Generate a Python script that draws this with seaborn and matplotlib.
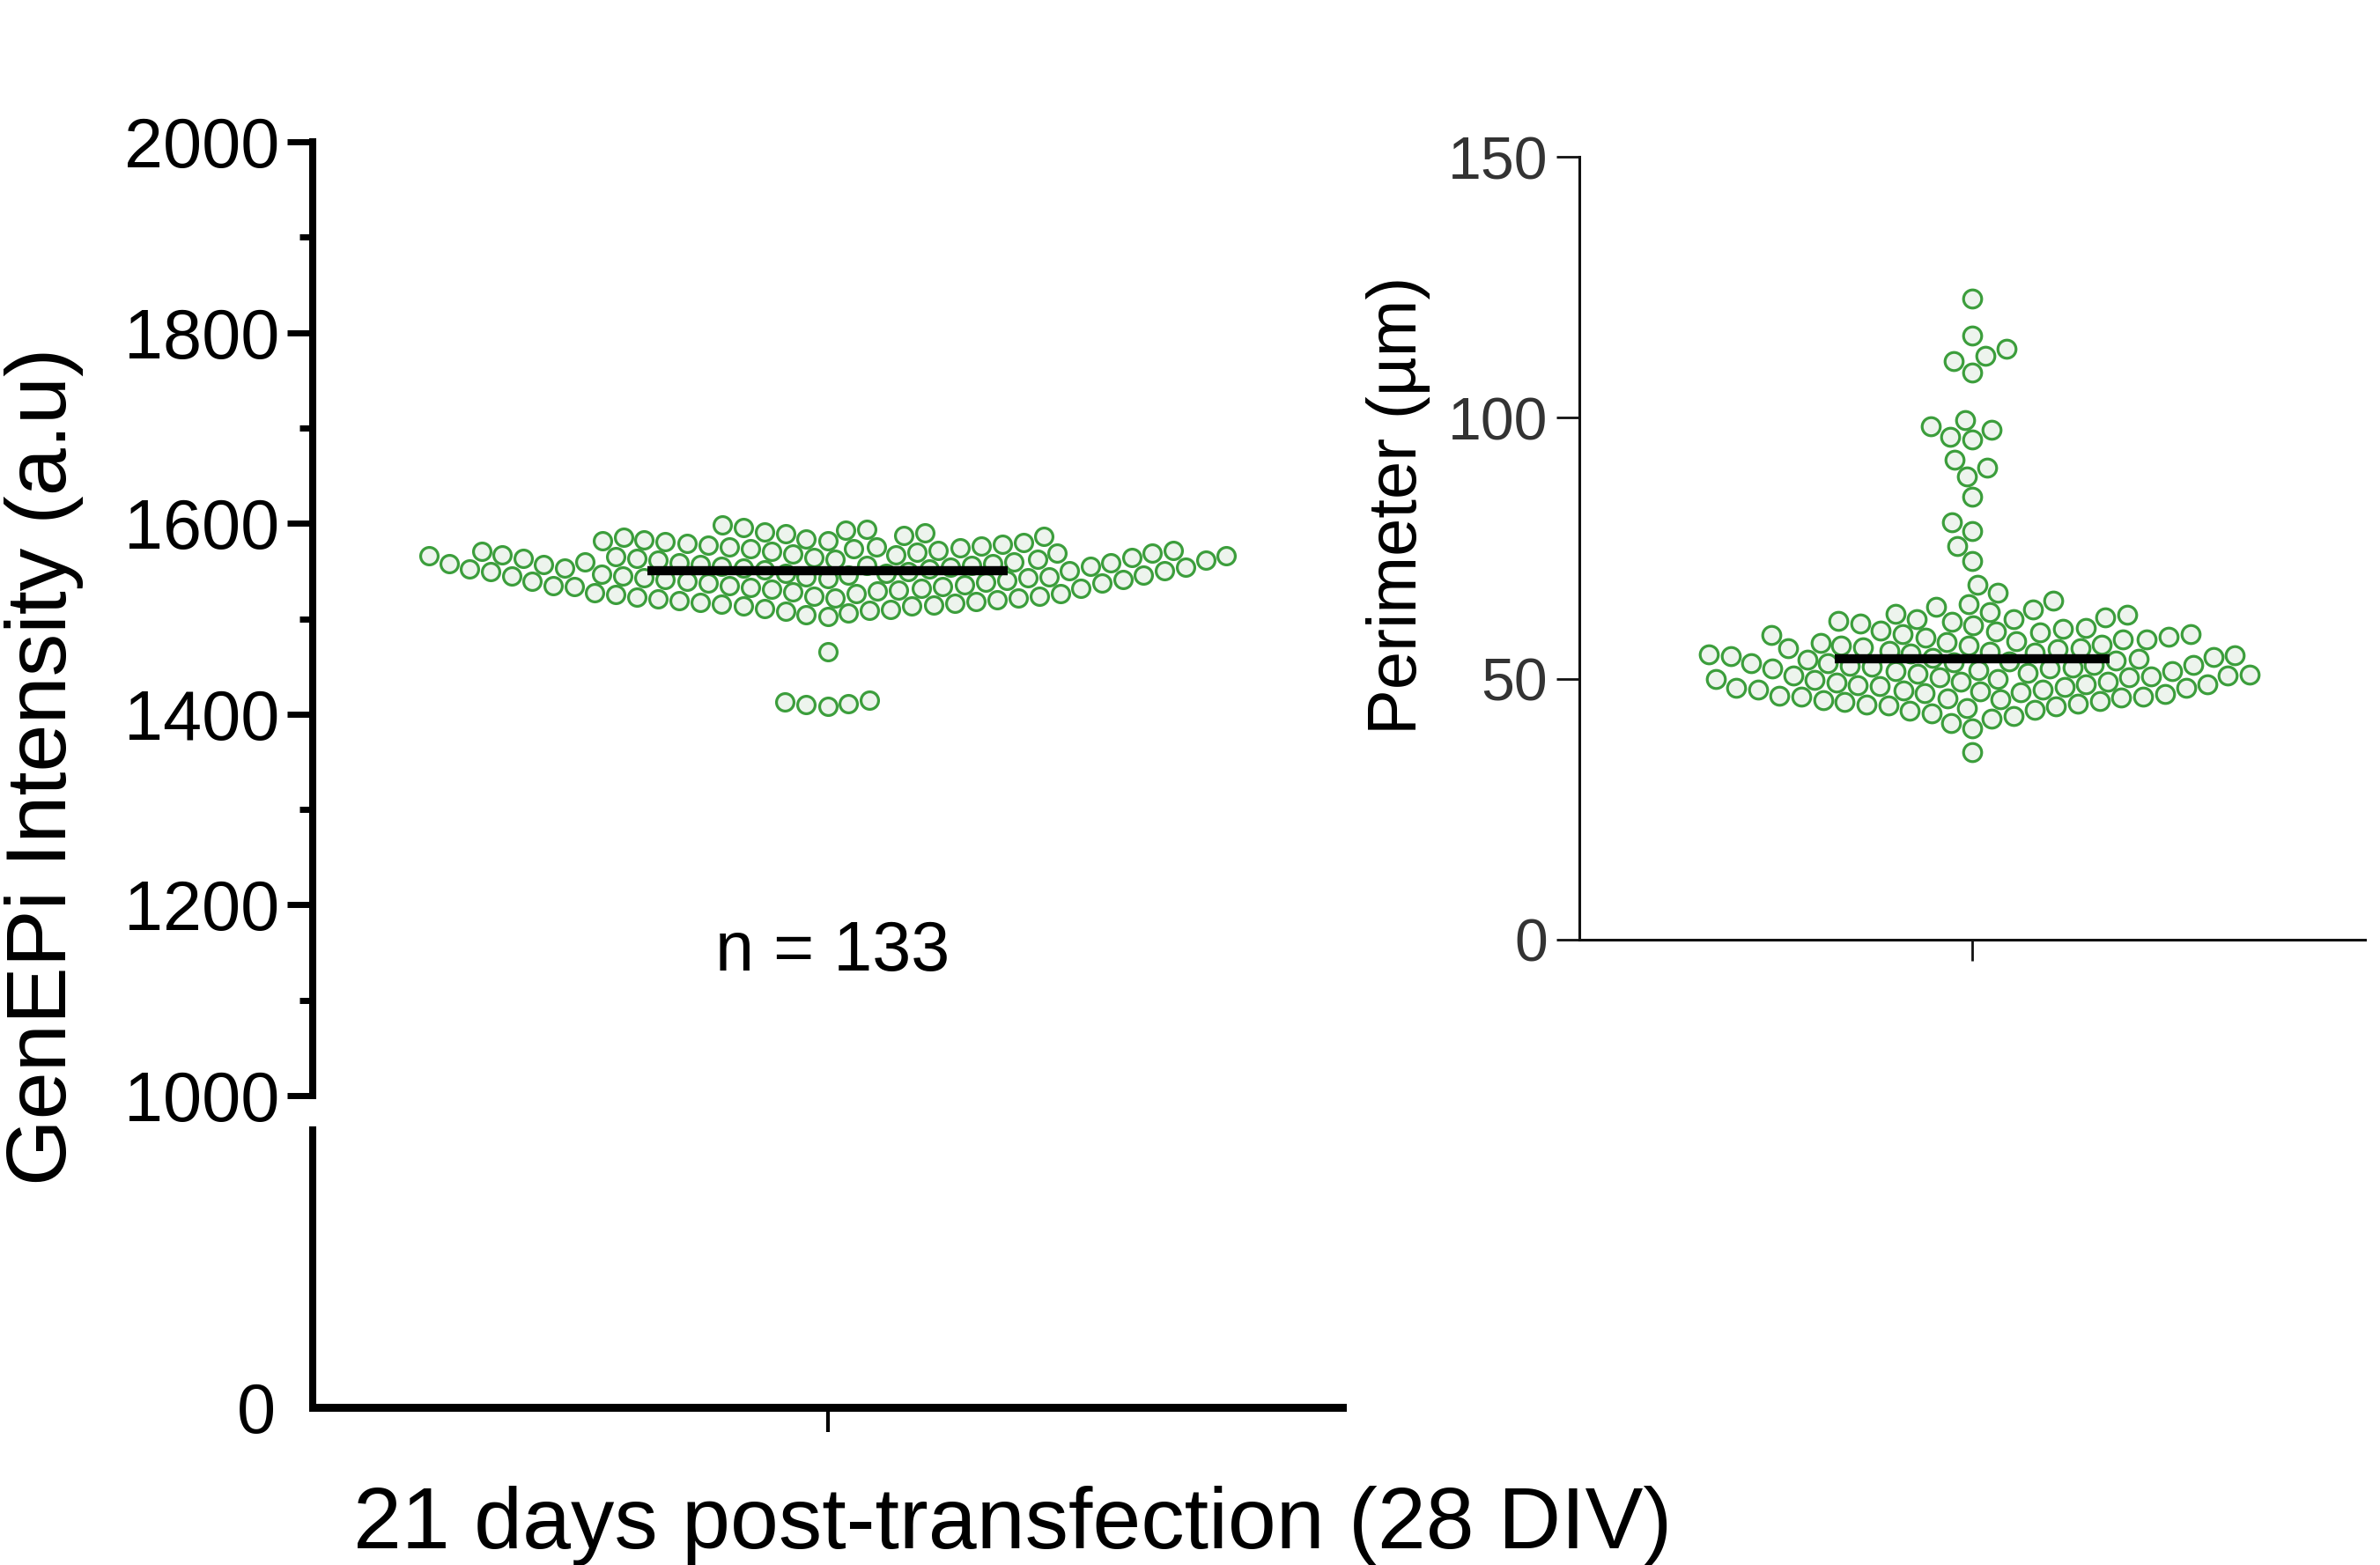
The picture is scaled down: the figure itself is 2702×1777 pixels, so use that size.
import numpy as np
import pandas as pd
import matplotlib
matplotlib.use("Agg")
import matplotlib.pyplot as plt
import seaborn as sns

# ---------------- data ----------------
intensity = [
    1408, 1410, 1411, 1413, 1415, 1465,
    1502, 1504, 1506, 1508, 1509,
    1510, 1511, 1513, 1513, 1514, 1516, 1517, 1518, 1519, 1515,
    1520, 1521, 1522, 1522, 1523, 1524, 1525, 1526, 1526, 1527, 1528, 1529, 1524,
    1530, 1531, 1532, 1532, 1533, 1534, 1535, 1535, 1536, 1537, 1537, 1538, 1539, 1539, 1534,
    1540, 1541, 1541, 1542, 1543, 1543, 1544, 1545, 1545, 1546, 1546, 1547, 1548, 1548, 1549, 1549, 1544,
    1550, 1550, 1551, 1552, 1552, 1553, 1553, 1554, 1555, 1555, 1556, 1556, 1557, 1557, 1558, 1558,
    1559, 1559, 1554,
    1560, 1560, 1561, 1561, 1562, 1563, 1563, 1564, 1564, 1565, 1566, 1566, 1567, 1567, 1568, 1569,
    1569, 1562,
    1570, 1571, 1571, 1572, 1573, 1573, 1574, 1575, 1575, 1576, 1577, 1578, 1579, 1572,
    1580, 1581, 1582, 1582, 1584, 1585, 1586, 1587, 1589, 1583,
    1590, 1591, 1593, 1594, 1596, 1598,
]

perimeter = [
    122.9, 115.8, 113.2, 111.9, 110.9, 108.7, 99.6, 98.3, 97.7, 96.4, 95.8,
    92.0, 90.4, 88.7, 84.8, 79.9, 78.3, 75.4, 72.5, 68.0, 66.5,
    36.0,
    40.5, 41.5,
    42.3, 42.8, 43.4, 43.9,
    44.1, 44.4, 44.7, 45.0, 45.2, 45.5, 45.7, 45.9, 44.9,
    46.0, 46.2, 46.4, 46.6, 46.8, 47.0, 47.2, 47.4, 47.6, 47.8, 47.9, 46.5,
    48.0, 48.2, 48.3, 48.5, 48.7, 48.9, 49.0, 49.2, 49.4, 49.5, 49.7, 49.9, 48.6,
    50.0, 50.2, 50.3, 50.5, 50.7, 50.8, 51.0, 51.2, 51.4, 51.5, 51.7, 51.9, 50.6,
    52.0, 52.2, 52.3, 52.5, 52.7, 52.9, 53.0, 53.2, 53.4, 53.5, 53.7, 53.9, 52.6,
    54.0, 54.2, 54.4, 54.6, 54.8, 55.0, 55.2, 55.4, 55.6, 55.8, 55.9, 54.5,
    56.0, 56.3, 56.6, 56.9, 57.2, 57.5, 57.8, 56.4, 57.0, 57.6,
    58.0, 58.3, 58.6, 58.9, 59.2, 59.5, 59.8, 58.5, 59.0,
    60.2, 60.6, 61.0, 61.4, 61.8, 60.9, 61.5,
    62.2, 62.8, 63.3, 63.7, 62.5,
    64.3, 65.0,
]

left_yticks = [1000, 1200, 1400, 1600, 1800, 2000]
right_yticks = [0, 50, 100, 150]
n_label = "n = 133"
left_ylabel = "GenEPi Intensity (a.u)"
right_ylabel = "Perimeter (µm)"
xlabel = "21 days post-transfection (28 DIV)"

# ---------------- style ----------------
sns.set_theme(style="ticks")
plt.rcParams["font.family"] = ["Liberation Sans", "DejaVu Sans"]

EDGE = "#3c9e3c"
FACE = "#edf4ed"

W, H = 2702, 1777
fig = plt.figure(figsize=(W / 100, H / 100), dpi=100)


def fx(px):
    return px / W


def fy(py):
    return 1 - py / H


ax_top = fig.add_axes([fx(355), fy(1244), fx(1524 - 355), (1244 - 161) / H])
ax_bot = fig.add_axes([fx(355), fy(1598), fx(1524 - 355), (1598 - 1283) / H], sharex=ax_top)
ax_r = fig.add_axes([fx(1793), fy(1067), fx(2685 - 1793), (1067 - 178) / H])

df_l = pd.DataFrame({"g": ["a"] * len(intensity), "v": intensity})
df_r = pd.DataFrame({"g": ["a"] * len(perimeter), "v": perimeter})

sns.swarmplot(data=df_l, x="g", y="v", ax=ax_top, color=FACE, edgecolor=EDGE,
              linewidth=2.3, size=14.3, zorder=2, clip_on=False)
sns.swarmplot(data=df_r, x="g", y="v", ax=ax_r, color=FACE, edgecolor=EDGE,
              linewidth=2.3, size=14.8, zorder=2, clip_on=False)

med_l = float(np.median(intensity))
med_r = float(np.median(perimeter))
ax_top.hlines(med_l, -0.175, 0.175, color="black", lw=7.5, zorder=5)
ax_r.hlines(med_r, -0.175, 0.175, color="black", lw=7.5, zorder=5)

# ---- top-left axes ----
ax_top.set_xlim(-0.5, 0.5)
ax_top.set_ylim(1000, 2000)
ax_top.set_yticks(left_yticks)
ax_top.set_yticks(np.arange(1100, 2000, 200), minor=True)
ax_top.set_xlabel("")
ax_top.set_ylabel("")
for s in ["top", "right", "bottom"]:
    ax_top.spines[s].set_visible(False)
ax_top.spines["left"].set_linewidth(5.8)
ax_top.spines["left"].set_color("black")
ax_top.tick_params(axis="x", bottom=False, labelbottom=False)
ax_top.tick_params(axis="y", which="major", length=21, width=5, direction="out",
                   labelsize=57, pad=6, colors="black")
ax_top.tick_params(axis="y", which="minor", length=11, width=5, direction="out", colors="black")
ax_top.patch.set_alpha(0)
ax_top.text(0.005, 1150, n_label, ha="center", va="center", fontsize=57, color="black")

# ---- bottom-left axes ----
ax_bot.set_ylim(0, 1)
ax_bot.set_yticks([0])
ax_bot.set_xticks([0])
ax_bot.set_xticklabels([""])
for s in ["top", "right"]:
    ax_bot.spines[s].set_visible(False)
ax_bot.spines["left"].set_linewidth(5.8)
ax_bot.spines["bottom"].set_linewidth(6.5)
ax_bot.spines["left"].set_color("black")
ax_bot.spines["bottom"].set_color("black")
ax_bot.tick_params(axis="y", length=0, labelsize=57, pad=30, colors="black")
ax_bot.tick_params(axis="x", length=20, width=3, direction="out", colors="black")
ax_bot.set_xlabel("")
ax_bot.set_ylabel("")
ax_bot.patch.set_alpha(0)

# ---- right axes ----
ax_r.set_xlim(-0.5, 0.5)
ax_r.set_ylim(0, 150)
ax_r.set_yticks(right_yticks)
ax_r.set_xticks([0])
ax_r.set_xticklabels([""])
ax_r.set_xlabel("")
ax_r.set_ylabel("")
for s in ["top", "right"]:
    ax_r.spines[s].set_visible(False)
for s in ["left", "bottom"]:
    ax_r.spines[s].set_linewidth(2.2)
    ax_r.spines[s].set_color("#111111")
ax_r.tick_params(axis="y", length=19, width=2, direction="out", labelsize=49, pad=7,
                 colors="#111111", labelcolor="#333333")
ax_r.tick_params(axis="x", length=17, width=2, direction="out", colors="#111111")
ax_r.patch.set_alpha(0)

# ---- labels ----
fig.text(fx(50), fy(870), left_ylabel, rotation=90, ha="center", va="center",
         fontsize=70, color="black")
fig.text(fx(1588), fy(574), right_ylabel, rotation=90, ha="center", va="center",
         fontsize=56, color="black")
fig.text(fx(1150), fy(1732), xlabel, ha="center", va="center", fontsize=71, color="black")

fig.savefig("out.png", dpi=100, facecolor="white")
